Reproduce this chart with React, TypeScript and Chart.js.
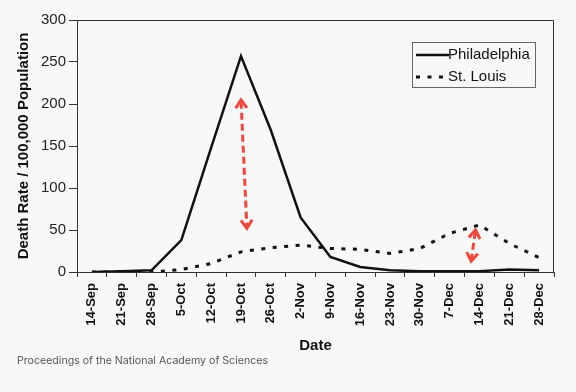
import React, { useEffect, useRef } from 'react';
import { Chart, registerables } from 'chart.js';

Chart.register(...registerables);

const dates = ['14-Sep', '21-Sep', '28-Sep', '5-Oct', '12-Oct', '19-Oct', '26-Oct', '2-Nov', '9-Nov', '16-Nov', '23-Nov', '30-Nov', '7-Dec', '14-Dec', '21-Dec', '28-Dec'];
const philadelphia = [0, 1, 2, 38, 148, 257, 169, 65, 18, 6, 2, 1, 1, 1, 3, 2];
const stLouis = [0, 0, 0, 3, 10, 24, 29, 32, 28, 27, 22, 28, 46, 56, 34, 17];
const yTicks = [0, 50, 100, 150, 200, 250, 300];
const seriesNames = ['Philadelphia', 'St. Louis'];
// Red double arrows (category index, value) in data units
const arrowFromX = [5.0, 12.87];
const arrowFromY = [205, 50];
const arrowToX = [5.2, 12.72];
const arrowToY = [52, 13];
const sourceText = 'Proceedings of the National Academy of Sciences';

const FONT = "'Liberation Sans', Arial, sans-serif";
const RED = '#f2463d';
const DASH = [4, 7.5];

function drawHead(ctx: CanvasRenderingContext2D, x: number, y: number, ang: number) {
  const len = 10;
  const spread = 0.6;
  ctx.beginPath();
  ctx.moveTo(x - len * Math.cos(ang - spread), y - len * Math.sin(ang - spread));
  ctx.lineTo(x, y);
  ctx.lineTo(x - len * Math.cos(ang + spread), y - len * Math.sin(ang + spread));
  ctx.stroke();
}

const overlayPlugin = {
  id: 'overlay',
  afterDatasetsDraw(chart: any) {
    const { ctx, chartArea, scales } = chart;
    const xs = scales.x;
    const ys = scales.y;
    ctx.save();
    // frame top/right
    ctx.strokeStyle = '#333';
    ctx.lineWidth = 1;
    ctx.beginPath();
    ctx.moveTo(chartArea.left, chartArea.top + 0.5);
    ctx.lineTo(chartArea.right - 0.5, chartArea.top + 0.5);
    ctx.lineTo(chartArea.right - 0.5, chartArea.bottom);
    ctx.stroke();

    // arrows
    ctx.strokeStyle = RED;
    ctx.lineWidth = 3;
    ctx.lineCap = 'butt';
    for (let i = 0; i < arrowFromX.length; i++) {
      const x1 = xs.getPixelForValue(arrowFromX[i]);
      const y1 = ys.getPixelForValue(arrowFromY[i]);
      const x2 = xs.getPixelForValue(arrowToX[i]);
      const y2 = ys.getPixelForValue(arrowToY[i]);
      const ang = Math.atan2(y2 - y1, x2 - x1);
      ctx.setLineDash([7, 4]);
      ctx.beginPath();
      ctx.moveTo(x1 + 2 * Math.cos(ang), y1 + 2 * Math.sin(ang));
      ctx.lineTo(x2 - 2 * Math.cos(ang), y2 - 2 * Math.sin(ang));
      ctx.stroke();
      ctx.setLineDash([]);
      drawHead(ctx, x2, y2, ang);
      drawHead(ctx, x1, y1, ang + Math.PI);
    }

    // legend
    const bx = chartArea.right - 142;
    const by = chartArea.top + 22;
    const bw = 123;
    const bh = 45;
    ctx.fillStyle = '#f8f8f8';
    ctx.fillRect(bx, by, bw, bh);
    ctx.strokeStyle = '#666';
    ctx.lineWidth = 1;
    ctx.strokeRect(bx + 0.5, by + 0.5, bw, bh);
    ctx.strokeStyle = '#111';
    ctx.lineWidth = 2.5;
    ctx.beginPath();
    ctx.moveTo(bx + 4, by + 13);
    ctx.lineTo(bx + 37, by + 13);
    ctx.stroke();
    ctx.lineWidth = 3;
    ctx.setLineDash(DASH);
    ctx.beginPath();
    ctx.moveTo(bx + 4, by + 35);
    ctx.lineTo(bx + 35, by + 35);
    ctx.stroke();
    ctx.setLineDash([]);
    ctx.fillStyle = '#111';
    ctx.font = `15px ${FONT}`;
    ctx.textBaseline = 'middle';
    ctx.textAlign = 'left';
    ctx.fillText(seriesNames[0], bx + 36, by + 13);
    ctx.fillText(seriesNames[1], bx + 36, by + 35);
    ctx.restore();
  },
};

export default function App() {
  const ref = useRef<HTMLCanvasElement>(null);
  useEffect(() => {
    if (!ref.current) return;
    const chart = new Chart(ref.current, {
      type: 'line',
      data: {
        labels: dates,
        datasets: [
          {
            label: seriesNames[0],
            data: philadelphia,
            borderColor: '#111',
            borderWidth: 2.5,
            pointRadius: 0,
            tension: 0,
            fill: false,
          },
          {
            label: seriesNames[1],
            data: stLouis,
            borderColor: '#111',
            borderWidth: 3,
            borderDash: DASH,
            pointRadius: 0,
            tension: 0,
            fill: false,
          },
        ],
      },
      options: {
        animation: false,
        responsive: false,
        layout: { padding: { left: 0, top: 20, right: 22, bottom: 37 } },
        plugins: {
          legend: { display: false },
          tooltip: { enabled: false },
        },
        scales: {
          x: {
            type: 'category',
            offset: true,
            grid: { offset: true, drawOnChartArea: false, drawTicks: true, tickLength: 5, color: '#333' },
            border: { display: true, color: '#333' },
            ticks: {
              minRotation: 90,
              maxRotation: 90,
              autoSkip: false,
              padding: 6,
              color: '#111',
              font: { family: FONT, size: 13, weight: 'bold' },
            },
            title: {
              display: true,
              text: 'Date',
              color: '#111',
              padding: { top: 0, bottom: 0 },
              font: { family: FONT, size: 15, weight: 'bold' },
            },
            afterFit: (s: any) => { s.height = 83; },
          },
          y: {
            min: 0,
            max: 300,
            afterBuildTicks: (s: any) => { s.ticks = yTicks.map((v) => ({ value: v })); },
            grid: { drawOnChartArea: false, drawTicks: true, tickLength: 8, color: '#333' },
            border: { display: true, color: '#333' },
            ticks: {
              padding: 3,
              color: '#222',
              font: { family: FONT, size: 15 },
            },
            title: {
              display: true,
              text: 'Death Rate / 100,000 Population',
              color: '#111',
              padding: { top: 15, bottom: 0 },
              font: { family: FONT, size: 15, weight: 'bold' },
            },
            afterFit: (s: any) => { s.width = 77; },
          },
        },
      },
      plugins: [overlayPlugin],
    });
    return () => chart.destroy();
  }, []);

  return (
    <div style={{ position: 'fixed', left: 0, top: 0, width: 576, height: 392, background: '#f8f8f8' }}>
      <canvas ref={ref} width={576} height={392} style={{ position: 'absolute', left: 0, top: 0 }} />
      <div
        style={{
          position: 'absolute',
          left: 17,
          top: 354,
          fontFamily: 'Inter, "Noto Sans", sans-serif',
          fontSize: 10.6,
          color: '#555',
          whiteSpace: 'nowrap',
        }}
      >
        {sourceText}
      </div>
    </div>
  );
}
